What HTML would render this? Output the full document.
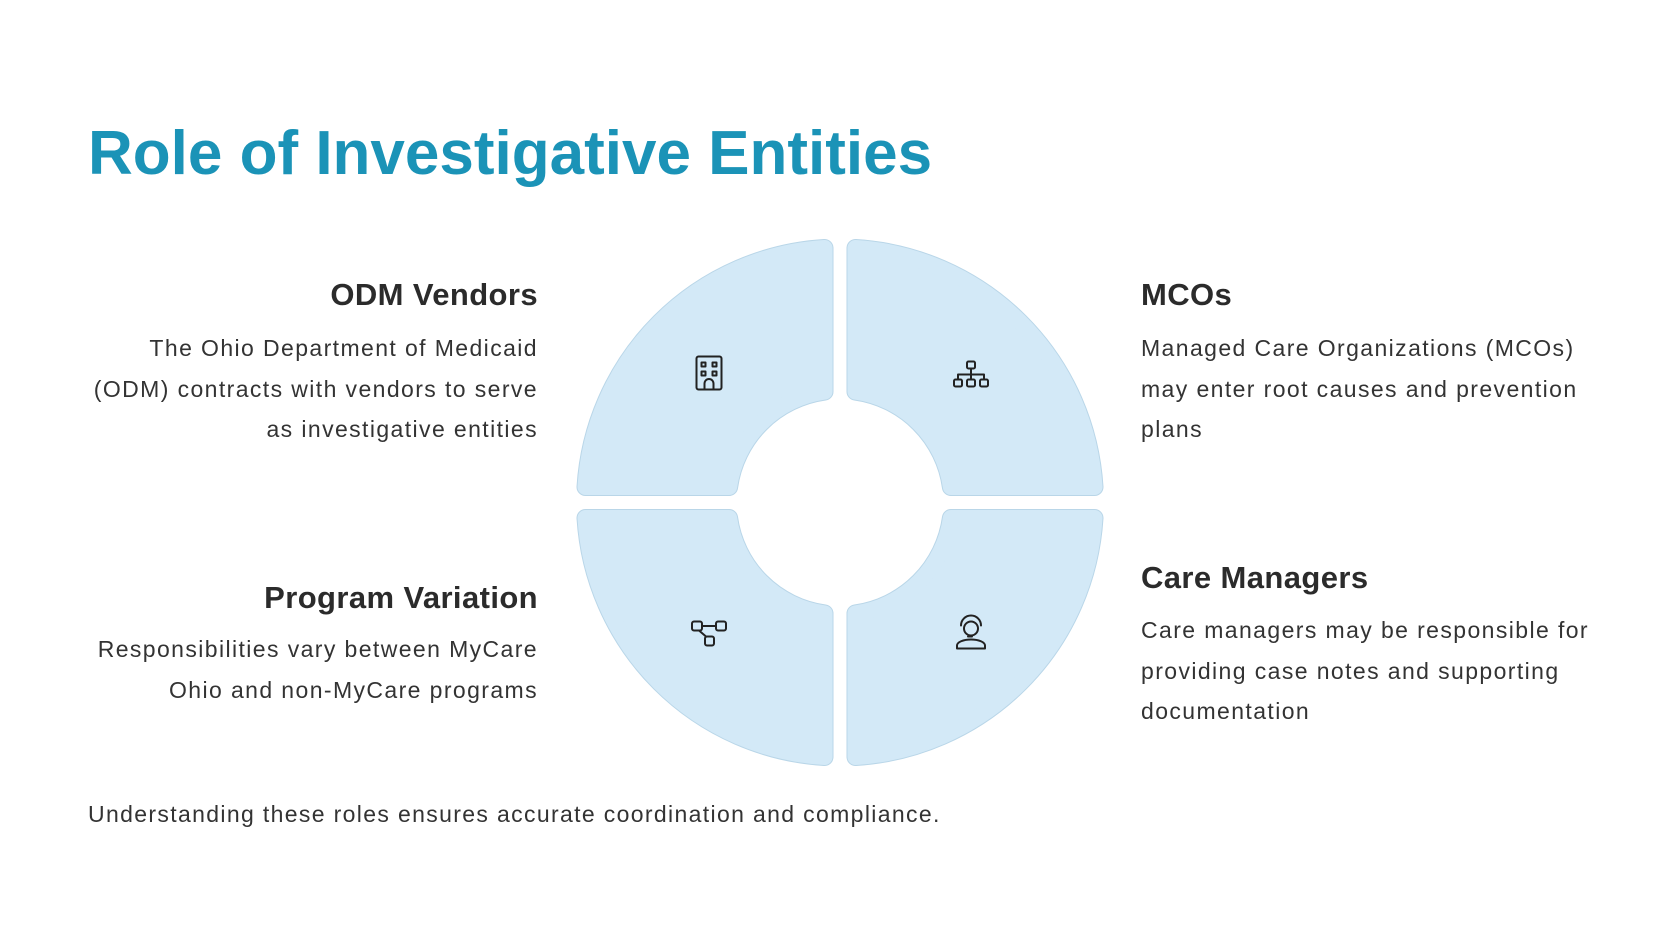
<!DOCTYPE html>
<html><head><meta charset="utf-8"><style>
html,body{margin:0;padding:0;background:#fff;}
body{width:1680px;height:945px;position:relative;overflow:hidden;font-family:"Liberation Sans",sans-serif;color:#2b2b2b;}
.t{position:absolute;white-space:nowrap;}
h1{position:absolute;left:88px;top:118px;margin:0;font-size:62px;font-weight:bold;color:#1b93b7;white-space:nowrap;}
.h{font-size:31px;font-weight:bold;color:#2b2b2b;letter-spacing:0.4px;}
.b{font-size:23px;line-height:40.5px;color:#333;letter-spacing:1.4px;}
.r{text-align:right;}
</style></head><body>
<h1>Role of Investigative Entities</h1>

<div class="t h r" style="right:1142px;top:277px;">ODM Vendors</div>
<div class="t b r" style="right:1142px;top:328px;">The Ohio Department of Medicaid<br>(ODM) contracts with vendors to serve<br>as investigative entities</div>

<div class="t h" style="left:1141px;top:277px;">MCOs</div>
<div class="t b" style="left:1141px;top:328px;">Managed Care Organizations (MCOs)<br>may enter root causes and prevention<br>plans</div>

<div class="t h r" style="right:1142px;top:580px;">Program Variation</div>
<div class="t b r" style="right:1142px;top:629px;">Responsibilities vary between MyCare<br>Ohio and non-MyCare programs</div>

<div class="t h" style="left:1141px;top:560px;">Care Managers</div>
<div class="t b" style="left:1141px;top:610px;">Care managers may be responsible for<br>providing case notes and supporting<br>documentation</div>

<div class="t b" style="left:88px;top:794px;letter-spacing:1.35px;">Understanding these roles ensures accurate coordination and compliance.</div>

<svg width="1680" height="945" style="position:absolute;left:0;top:0">
<defs>
<path id="p" d="M 589.5,488.5 A255 255 0 0 1 828.5,249.5 L 828.5,393.1 A112 112 0 0 0 733.1,488.5 Z"/>
<g id="q"><use href="#p" fill="#b9d6e8" stroke="#b9d6e8" stroke-width="18" stroke-linejoin="round"/><use href="#p" fill="#d3e9f7" stroke="#d3e9f7" stroke-width="16" stroke-linejoin="round"/></g>
</defs>
<g transform="translate(-4,-1.5)">
<use href="#q"/>
<use href="#q" transform="translate(1688,0) scale(-1,1)"/>
<use href="#q" transform="translate(0,1008) scale(1,-1)"/>
<use href="#q" transform="translate(1688,1008) scale(-1,-1)"/>
<g fill="none" stroke="#222" stroke-width="2" stroke-linejoin="round" stroke-linecap="round">
<g transform="translate(13.5,12)">
<rect x="687" y="346" width="25" height="33" rx="2"/>
<rect x="692" y="352" width="4" height="4"/><rect x="703" y="352" width="4" height="4"/>
<rect x="692" y="361" width="4" height="4"/><rect x="703" y="361" width="4" height="4"/>
<path d="M695,379 v-6 a4.5,4.5 0 0 1 9,0 v6"/>
</g>
<g transform="translate(32,13)">
<rect x="939" y="350" width="8" height="7" rx="1.5"/>
<path d="M943,357 v5 M930,368 v-5 h26 v5 M943,362 v6"/>
<rect x="926" y="368" width="8" height="7" rx="1.5"/><rect x="939" y="368" width="8" height="7" rx="1.5"/><rect x="952" y="368" width="8" height="7" rx="1.5"/>
</g>
<g transform="translate(13,31)">
<rect x="683" y="592" width="10" height="9" rx="2"/><rect x="707" y="592" width="10" height="9" rx="2"/><rect x="696" y="607" width="9" height="9" rx="2"/>
<path d="M693,596.5 h14 M690,601 l7,6"/>
</g>
<g transform="translate(32,27)">
<path d="M929,623 v-3 a14,6 0 0 1 28,0 v3 z"/>
<circle cx="943" cy="603" r="7"/>
<path d="M933,600 a10,10 0 0 1 20,0"/>
<path d="M940,611 h4"/>
</g>
</g>
</g>
</svg>
</body></html>
